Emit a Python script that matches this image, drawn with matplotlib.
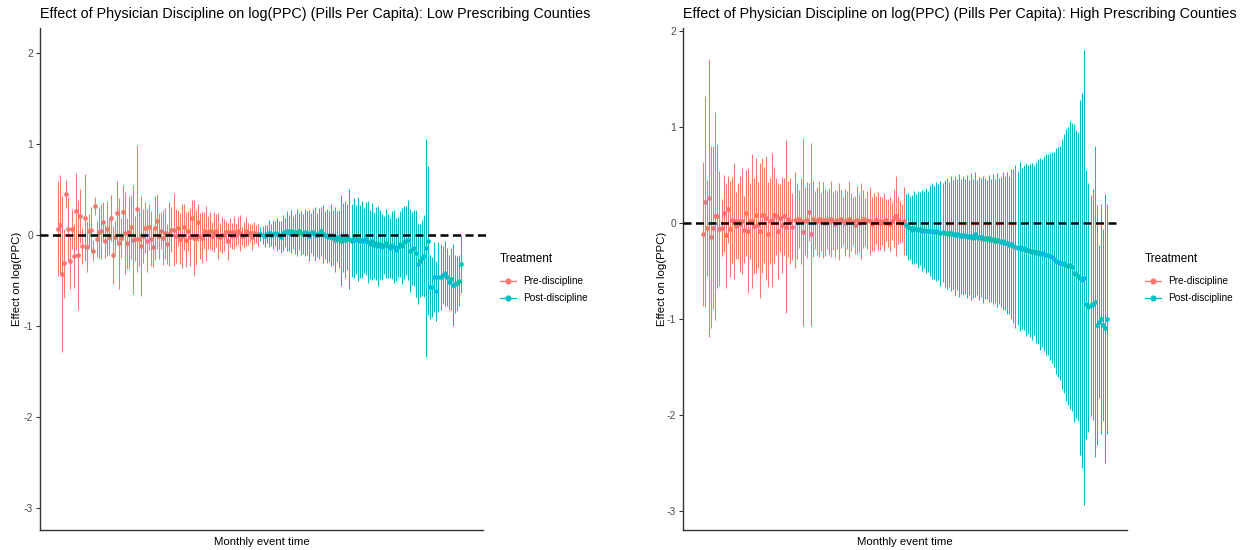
import matplotlib

matplotlib.use("Agg")
import matplotlib.pyplot as plt
from matplotlib.lines import Line2D

plt.rcParams["font.family"] = ["Liberation Sans", "DejaVu Sans"]

PRE_COLOR = "#F8766D"
POST_COLOR = "#00BFC4"

# monthly event time (pre: -100..-1, post: 0..99)
pre_time = list(range(-100, 0))
post_time = list(range(0, 100))

# ---- Low prescribing counties ----
low_pre_est = [
    0.07, 0.11, -0.43, -0.31, 0.45, 0.07, -0.29, 0.07, -0.23, 0.26,
    -0.22, 0.21, -0.12, 0.19, -0.13, 0.05, 0.06, -0.17, 0.32, -0.04,
    0.03, 0.04, 0.14, -0.07, 0.07, -0.02, 0.19, -0.22, -0.02, 0.24,
    -0.09, -0.03, 0.25, 0.02, -0.09, 0.03, 0.09, -0.05, -0.04, 0.29,
    -0.04, -0.12, -0.01, 0.08, -0.06, 0.09, -0.04, -0.13, 0.08, 0.15,
    -0.01, 0.05, -0.03, 0.02, -0.10, 0.01, 0.06, 0.06, -0.01, 0.08,
    -0.04, -0.01, 0.09, -0.05, 0.04, -0.02, 0.19, -0.03, -0.03, 0.14,
    -0.01, -0.03, 0.05, 0.02, 0.03, 0.05, -0.01, 0.03, 0.05, -0.01,
    -0.02, 0.00, 0.00, 0.03, -0.07, 0.03, -0.01, 0.03, 0.00, 0.05,
    0.02, -0.01, 0.00, 0.04, 0.01, 0.02, -0.02, 0.02, 0.01, 0.00,
]
low_pre_hw = [
    0.52, 0.55, 0.86, 0.38, 0.15, 0.35, 0.30, 0.22, 0.35, 0.42,
    0.60, 0.30, 0.20, 0.48, 0.28, 0.18, 0.25, 0.12, 0.10, 0.20,
    0.28, 0.30, 0.22, 0.18, 0.30, 0.20, 0.25, 0.32, 0.18, 0.35,
    0.50, 0.22, 0.30, 0.45, 0.28, 0.40, 0.35, 0.60, 0.25, 0.70,
    0.30, 0.55, 0.30, 0.28, 0.35, 0.25, 0.30, 0.22, 0.35, 0.30,
    0.25, 0.20, 0.30, 0.28, 0.22, 0.35, 0.25, 0.40, 0.30, 0.20,
    0.28, 0.35, 0.25, 0.30, 0.22, 0.32, 0.20, 0.42, 0.30, 0.20,
    0.25, 0.28, 0.20, 0.30, 0.18, 0.20, 0.15, 0.22, 0.18, 0.25,
    0.15, 0.20, 0.18, 0.12, 0.20, 0.16, 0.14, 0.18, 0.12, 0.15,
    0.20, 0.10, 0.14, 0.16, 0.12, 0.10, 0.14, 0.12, 0.10, 0.12,
]
low_post_est = [
    0.01, 0.00, -0.01, 0.01, 0.02, 0.00, 0.01, 0.02, 0.01, 0.00,
    -0.02, 0.02, 0.03, 0.04, 0.02, 0.04, 0.03, 0.01, 0.03, 0.04,
    0.02, 0.01, 0.03, 0.02, -0.01, 0.02, 0.03, 0.01, 0.00, 0.02,
    0.04, 0.01, 0.00, -0.01, -0.02, 0.00, -0.03, -0.05, -0.02, -0.04,
    -0.06, -0.03, -0.05, -0.02, -0.04, -0.06, -0.03, -0.05, -0.04, -0.07,
    -0.05, -0.06, -0.04, -0.08, -0.10, -0.07, -0.11, -0.09, -0.12, -0.10,
    -0.13, -0.11, -0.09, -0.12, -0.14, -0.11, -0.13, -0.16, -0.13, -0.10,
    -0.12, -0.08, -0.06, -0.05, -0.17, -0.15, -0.14, -0.20, -0.32, -0.28,
    -0.25, -0.23, -0.14, -0.06, -0.57, -0.57, -0.46, -0.61, -0.46, -0.46,
    -0.44, -0.42, -0.46, -0.52, -0.48, -0.55, -0.54, -0.53, -0.50, -0.32,
]
low_post_hw = [
    0.08, 0.10, 0.12, 0.10, 0.15, 0.12, 0.16, 0.14, 0.18, 0.15,
    0.18, 0.20, 0.16, 0.22, 0.20, 0.24, 0.18, 0.22, 0.26, 0.20,
    0.24, 0.22, 0.26, 0.24, 0.28, 0.22, 0.26, 0.30, 0.24, 0.28,
    0.27, 0.32, 0.26, 0.30, 0.28, 0.34, 0.30, 0.36, 0.28, 0.32,
    0.50, 0.38, 0.42, 0.36, 0.55, 0.40, 0.44, 0.38, 0.46, 0.40,
    0.42, 0.36, 0.40, 0.45, 0.38, 0.42, 0.36, 0.40, 0.44, 0.38,
    0.36, 0.32, 0.38, 0.35, 0.33, 0.37, 0.40, 0.35, 0.33, 0.36,
    0.42, 0.40, 0.38, 0.44, 0.46, 0.40, 0.42, 0.48, 0.44, 0.40,
    0.42, 0.45, 1.20, 0.82, 0.35, 0.33, 0.38, 0.33, 0.38, 0.36,
    0.32, 0.36, 0.32, 0.30, 0.34, 0.45, 0.32, 0.30, 0.28, 0.32,
]

# ---- High prescribing counties ----
high_pre_est = [
    -0.12, 0.22, -0.05, 0.26, -0.15, -0.05, 0.07, 0.07, -0.06, -0.05,
    0.10, -0.13, 0.14, -0.06, 0.03, 0.02, -0.03, 0.02, -0.01, 0.02,
    -0.07, 0.10, -0.08, 0.02, 0.02, -0.03, 0.08, -0.02, -0.08, 0.08,
    0.08, 0.05, -0.12, 0.02, 0.03, 0.08, 0.07, -0.08, 0.05, -0.02,
    0.07, -0.04, 0.04, 0.02, -0.04, 0.03, 0.02, 0.04, 0.02, -0.10,
    0.02, 0.03, 0.11, -0.12, 0.04, 0.03, 0.02, 0.04, 0.01, 0.03,
    0.00, 0.03, 0.01, 0.04, 0.02, -0.01, 0.03, 0.01, 0.04, 0.02,
    0.00, 0.03, 0.04, 0.01, 0.02, -0.02, 0.03, 0.00, 0.02, 0.04,
    0.01, 0.03, 0.02, -0.01, 0.01, 0.03, 0.02, 0.00, 0.02, 0.01,
    0.03, 0.00, -0.01, 0.02, 0.05, 0.07, 0.03, 0.01, 0.00, 0.02,
]
high_pre_hw = [
    0.75, 1.10, 0.50, 1.45, 0.95, 0.85, 1.08, 0.75, 0.60, 0.30,
    0.40, 0.55, 0.35, 0.50, 0.45, 0.60, 0.35, 0.40, 0.50, 0.55,
    0.35, 0.45, 0.65, 0.40, 0.70, 0.50, 0.60, 0.45, 0.70, 0.60,
    0.50, 0.65, 0.55, 0.45, 0.70, 0.50, 0.40, 0.50, 0.35, 0.50,
    0.40, 0.90, 0.40, 0.45, 0.35, 0.50, 0.40, 0.30, 0.45, 0.98,
    0.35, 0.40, 0.30, 0.95, 0.40, 0.30, 0.35, 0.40, 0.30, 0.40,
    0.35, 0.30, 0.35, 0.40, 0.30, 0.35, 0.30, 0.40, 0.30, 0.25,
    0.35, 0.30, 0.40, 0.30, 0.25, 0.30, 0.35, 0.30, 0.40, 0.30,
    0.25, 0.30, 0.35, 0.28, 0.30, 0.25, 0.30, 0.28, 0.25, 0.30,
    0.22, 0.25, 0.28, 0.20, 0.30, 0.42, 0.25, 0.22, 0.20, 0.35,
]
high_post_est = [
    -0.02, -0.04, -0.05, -0.07, -0.05, -0.06, -0.07, -0.06, -0.08, -0.07,
    -0.08, -0.09, -0.08, -0.09, -0.10, -0.09, -0.10, -0.11, -0.10, -0.11,
    -0.11, -0.12, -0.11, -0.12, -0.13, -0.12, -0.13, -0.14, -0.13, -0.14,
    -0.14, -0.15, -0.14, -0.16, -0.12, -0.15, -0.16, -0.15, -0.17, -0.16,
    -0.17, -0.16, -0.18, -0.17, -0.19, -0.18, -0.19, -0.20, -0.19, -0.21,
    -0.21, -0.23, -0.22, -0.24, -0.25, -0.26, -0.25, -0.27, -0.26, -0.28,
    -0.28, -0.29, -0.30, -0.29, -0.31, -0.30, -0.32, -0.31, -0.32, -0.33,
    -0.33, -0.35, -0.36, -0.38, -0.40, -0.41, -0.42, -0.43, -0.42, -0.44,
    -0.45, -0.44, -0.46, -0.52, -0.53, -0.55, -0.57, -0.60, -0.57, -0.85,
    -0.88, -0.86, -0.85, -0.82, -1.06, -1.03, -1.00, -1.06, -1.10, -1.00,
]
high_post_hw = [
    0.32, 0.35, 0.33, 0.36, 0.38, 0.36, 0.40, 0.38, 0.42, 0.40,
    0.44, 0.42, 0.47, 0.50, 0.48, 0.52, 0.50, 0.55, 0.52, 0.56,
    0.58, 0.55, 0.60, 0.57, 0.62, 0.58, 0.64, 0.60, 0.62, 0.60,
    0.64, 0.60, 0.66, 0.62, 0.65, 0.60, 0.64, 0.62, 0.66, 0.63,
    0.62, 0.66, 0.64, 0.68, 0.65, 0.70, 0.66, 0.68, 0.72, 0.70,
    0.74, 0.72, 0.78, 0.80, 0.85, 0.80, 0.88, 0.84, 0.86, 0.90,
    0.88, 0.90, 0.92, 0.88, 0.94, 0.96, 1.00, 0.98, 1.02, 1.05,
    1.05, 1.08, 1.10, 1.12, 1.18, 1.20, 1.22, 1.30, 1.35, 1.42,
    1.45, 1.50, 1.50, 1.55, 1.50, 1.50, 1.85, 1.95, 2.37, 1.40,
    1.30, 1.15, 1.20, 1.62, 1.25, 0.80, 1.20, 1.00, 1.40, 1.20,
]

y_ticks = [2, 1, 0, -1, -2, -3]


def draw_panel(ax, pre_est, pre_hw, post_est, post_hw, xlim, ylim, hline_end, title):
    for times, est, hw, color in (
        (pre_time, pre_est, pre_hw, PRE_COLOR),
        (post_time, post_est, post_hw, POST_COLOR),
    ):
        lo = [e - h for e, h in zip(est, hw)]
        hi = [e + h for e, h in zip(est, hw)]
        ax.vlines(times, lo, hi, color=color, linewidth=0.75, zorder=2)
        ax.plot(times, est, "o", color=color, markersize=3.4, markeredgewidth=0, zorder=3)

    # dashed zero reference line
    ax.plot([xlim[0], hline_end], [0, 0], color="black", linewidth=1.8,
            dashes=(3.2, 1.8), zorder=4, clip_on=False)

    ax.set_xlim(*xlim)
    ax.set_ylim(*ylim)
    ax.set_yticks(y_ticks)
    ax.set_yticklabels([str(t) for t in y_ticks])
    ax.set_xticks([])
    for side in ("top", "right"):
        ax.spines[side].set_visible(False)
    for side in ("left", "bottom"):
        ax.spines[side].set_color("#333333")
        ax.spines[side].set_linewidth(1.0)
    ax.tick_params(axis="y", length=3, width=0.8, color="#333333",
                   labelsize=7.5, labelcolor="#4D4D4D", pad=2)
    ax.set_ylabel("Effect on log(PPC)", fontsize=8.2)
    ax.set_xlabel("Monthly event time", fontsize=8.2)
    ax.xaxis.set_label_coords(0.5, -0.014)
    ax.set_title(title, loc="left", fontsize=10.4, pad=7)


fig = plt.figure(figsize=(12.5, 5.5), dpi=100)
ax_low = fig.add_axes([0.032, 0.0364, 0.3544, 0.9127])
ax_high = fig.add_axes([0.5464, 0.0364, 0.3552, 0.9127])

draw_panel(ax_low, low_pre_est, low_pre_hw, low_post_est, low_post_hw,
           xlim=(-109, 110), ylim=(-3.24, 2.275), hline_end=112.4,
           title="Effect of Physician Discipline on log(PPC) (Pills Per Capita): Low Prescribing Counties")
draw_panel(ax_high, high_pre_est, high_pre_hw, high_post_est, high_post_hw,
           xlim=(-110, 109), ylim=(-3.2, 2.03), hline_end=105,
           title="Effect of Physician Discipline on log(PPC) (Pills Per Capita): High Prescribing Counties")
ax_low.yaxis.set_label_coords(-0.040, 0.5)
ax_high.yaxis.set_label_coords(-0.036, 0.5)

handles = [
    Line2D([], [], color=PRE_COLOR, marker="o", markersize=3.4, linewidth=0.9),
    Line2D([], [], color=POST_COLOR, marker="o", markersize=3.4, linewidth=0.9),
]
labels = ["Pre-discipline", "Post-discipline"]
for x_px in (500, 1145):
    fig.text(x_px / 1250, 1 - 259 / 550, "Treatment", fontsize=8.5,
             ha="left", va="center")
    fig.legend(handles, labels, loc="center left",
               bbox_to_anchor=(x_px / 1250, 1 - 289.5 / 550), frameon=False,
               fontsize=7.2, handlelength=1.6, handletextpad=0.7,
               labelspacing=0.7, borderpad=0, borderaxespad=0)

fig.savefig("out.png", dpi=100)
